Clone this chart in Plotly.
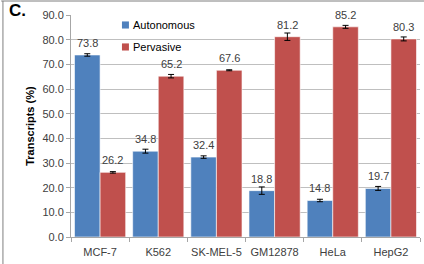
import plotly.graph_objects as go

categories = ["MCF-7", "K562", "SK-MEL-5", "GM12878", "HeLa", "HepG2"]
autonomous = [73.8, 34.8, 32.4, 18.8, 14.8, 19.7]
pervasive = [26.2, 65.2, 67.6, 81.2, 85.2, 80.3]
autonomous_err = [0.5, 0.8, 0.5, 1.5, 0.5, 0.8]
pervasive_err = [0.3, 0.7, 0.2, 1.5, 0.6, 0.8]
y_ticks = [0, 10, 20, 30, 40, 50, 60, 70, 80, 90]
series_names = ["Autonomous", "Pervasive"]

BLUE = "#4F81BD"
RED = "#C0504D"
TXT = "#404040"
FONT = "Liberation Sans, Arial, sans-serif"
BARGAP = 0.12

fig = go.Figure()
fig.add_trace(go.Bar(
    x=categories, y=autonomous, name=series_names[0], marker_color=BLUE,
    marker_line=dict(color="white", width=0.6), showlegend=False,
    error_y=dict(type="data", array=autonomous_err, color="#000000", thickness=1, width=3),
))
fig.add_trace(go.Bar(
    x=categories, y=pervasive, name=series_names[1], marker_color=RED,
    marker_line=dict(color="white", width=0.6), showlegend=False,
    error_y=dict(type="data", array=pervasive_err, color="#000000", thickness=1, width=3),
))

half = (1 - BARGAP) / 4
annotations = []
for i, (a, p) in enumerate(zip(autonomous, pervasive)):
    for off, v in [(-half, a), (half, p)]:
        annotations.append(dict(
            x=i + off, y=v, xref="x", yref="y", text=f"{v:.1f}",
            showarrow=False, yanchor="bottom", yshift=4,
            font=dict(size=11, color=TXT, family=FONT),
        ))
annotations.append(dict(
    x=-0.152, y=1.02, xref="paper", yref="paper", text="<b>C.</b>",
    showarrow=False, xanchor="center", yanchor="middle",
    font=dict(size=17, color="#000000", family=FONT),
))
annotations.append(dict(
    x=-0.118, y=0.5, xref="paper", yref="paper", text="<b>Transcripts (%)</b>",
    showarrow=False, textangle=-90, xanchor="center", yanchor="middle",
    font=dict(size=11, color="#000000", family=FONT),
))

# manual legend
shapes = [
    dict(type="line", xref="paper", yref="paper", x0=-0.2, x1=1.02, y0=1.063, y1=1.063,
         line=dict(color="#7f7f7f", width=1)),
    dict(type="line", xref="paper", yref="paper", x0=-0.195, x1=-0.195, y0=-0.2, y1=1.063,
         line=dict(color="#7f7f7f", width=1)),
]
for name, col, yc in [(series_names[0], BLUE, 0.955), (series_names[1], RED, 0.856)]:
    shapes.append(dict(type="rect", xref="paper", yref="paper", x0=0.146, x1=0.166,
                       y0=yc - 0.016, y1=yc + 0.016, fillcolor=col, line=dict(width=0)))
    annotations.append(dict(
        x=0.172, y=yc, xref="paper", yref="paper", text=name, showarrow=False,
        xanchor="left", yanchor="middle", font=dict(size=11, color="#000000", family=FONT),
    ))

fig.update_layout(
    width=424, height=264,
    margin=dict(l=71, r=4, t=15, b=27, autoexpand=False),
    paper_bgcolor="white", plot_bgcolor="white",
    barmode="group", bargap=BARGAP, bargroupgap=0,
    font=dict(family=FONT, size=11, color=TXT),
    annotations=annotations, shapes=shapes, showlegend=False,
)
fig.update_xaxes(
    type="category", showgrid=False, showline=True, linecolor="#a6a6a6", linewidth=1,
    ticks="outside", tickson="boundaries", ticklen=4, tickcolor="#a6a6a6",
    tickfont=dict(size=11, color=TXT), range=[-0.5, 5.5], tickangle=0, automargin=False,
    ticklabelstandoff=5,
)
fig.update_yaxes(
    range=[0, 90], tickvals=y_ticks, tickformat=".1f",
    showgrid=True, gridcolor="#bfbfbf", gridwidth=1,
    showline=True, linecolor="#a6a6a6", linewidth=1,
    ticks="outside", ticklen=4, tickcolor="#a6a6a6",
    tickfont=dict(size=11, color=TXT), zeroline=False, automargin=False,
)
fig.write_html("out.html", config={"displayModeBar": False},
               post_script="document.body.style.margin='0';document.body.style.overflow='hidden';")
